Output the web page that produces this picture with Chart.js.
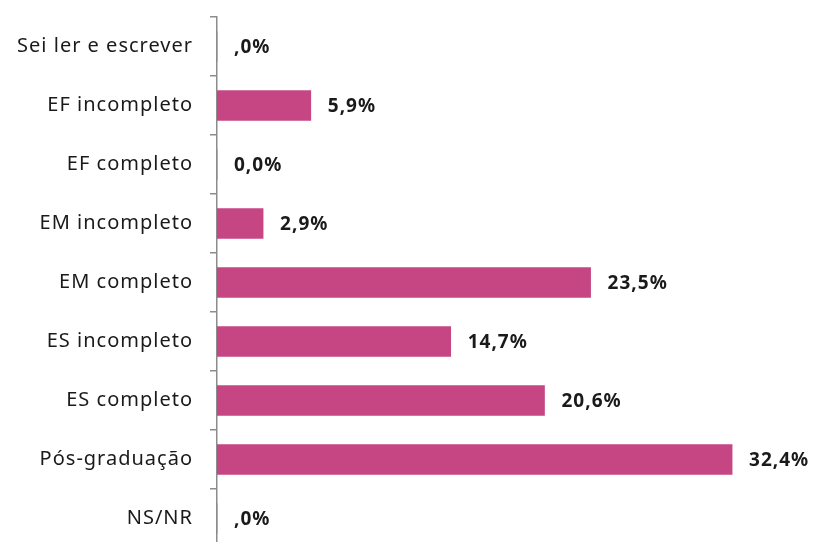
<!DOCTYPE html>
<html>
<head>
<meta charset="utf-8">
<script src="https://cdn.jsdelivr.net/npm/chart.js@4/dist/chart.umd.min.js"></script>
<style>
  html, body { margin: 0; padding: 0; background: #fff; overflow: hidden; }
  #wrap { width: 820px; height: 548px; }
</style>
</head>
<body>
<div id="wrap"><canvas id="chart" width="820" height="548"></canvas></div>
<script>
// escolaridade dos respondentes (%)
const categories = [
  "Sei ler e escrever",
  "EF incompleto",
  "EF completo",
  "EM incompleto",
  "EM completo",
  "ES incompleto",
  "ES completo",
  "Pós-graduação",
  "NS/NR"
];
const values = [0, 5.9, 0, 2.9, 23.5, 14.7, 20.6, 32.4, 0];
const valueLabels = [",0%", "5,9%", "0,0%", "2,9%", "23,5%", "14,7%", "20,6%", "32,4%", ",0%"];

const barColor = "#C54683";
const fontFamily = "'Noto Sans', 'Open Sans', sans-serif";

// espaçamento entre letras nos textos
const spacingPlugin = {
  id: "spacing",
  beforeDraw(chart) {
    chart.ctx.letterSpacing = "1px";
  }
};

// escreve o valor ao lado de cada barra
const valueLabelPlugin = {
  id: "valueLabels",
  afterDatasetsDraw(chart) {
    const ctx = chart.ctx;
    const meta = chart.getDatasetMeta(0);
    ctx.save();
    ctx.font = "bold 19px " + fontFamily;
    ctx.fillStyle = "#1a1a1a";
    ctx.textAlign = "left";
    ctx.textBaseline = "middle";
    meta.data.forEach((bar, i) => {
      ctx.fillText(valueLabels[i], bar.x + 17, bar.y + 1);
    });
    ctx.restore();
  }
};

new Chart(document.getElementById("chart").getContext("2d"), {
  type: "bar",
  data: {
    labels: categories,
    datasets: [{
      data: values,
      backgroundColor: barColor,
      borderWidth: 0,
      barThickness: 30
    }]
  },
  options: {
    responsive: false,
    animation: false,
    indexAxis: "y",
    layout: { padding: { top: 17, right: 10, bottom: 0, left: 0 } },
    scales: {
      x: {
        display: false,
        min: 0,
        max: 37.3
      },
      y: {
        offset: true,
        afterFit(scale) {
          scale.width = 217;
          scale.paddingTop = 0;
          scale.paddingBottom = 0;
        },
        grid: {
          offset: true,
          drawOnChartArea: false,
          drawTicks: true,
          tickLength: 7,
          color: "#8c8c8c",
          lineWidth: 1.5
        },
        border: { color: "#8c8c8c", width: 1.5 },
        ticks: {
          color: "#1a1a1a",
          padding: 17,
          font: { family: fontFamily, size: 20 }
        }
      }
    },
    plugins: {
      legend: { display: false },
      tooltip: { enabled: false }
    }
  },
  plugins: [spacingPlugin, valueLabelPlugin]
});
</script>
</body>
</html>
